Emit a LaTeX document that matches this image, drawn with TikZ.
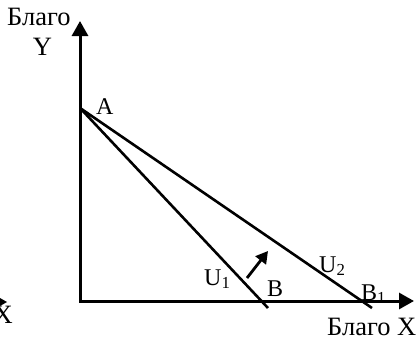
\documentclass[tikz,border=0pt]{standalone}
\usepackage{fontspec}
\setmainfont{Liberation Serif}
\usetikzlibrary{arrows.meta}
\tikzset{
  axis/.style={line width=3pt, line join=miter, {Triangle[length=15pt,width=16pt]}-{Triangle[length=15pt,width=16pt]}},
  budget/.style={line width=2.6pt},
  shiftarrow/.style={line width=2.8pt, -{Triangle[length=12pt,width=13pt]}},
  axlabel/.style={inner sep=0pt, anchor=base west, font=\fontsize{26.5}{28}\selectfont},
  ptlabel/.style={inner sep=0pt, anchor=base west, font=\fontsize{24}{26}\selectfont},
}
\begin{document}
\begin{tikzpicture}[x=1pt,y=-1pt]
\useasboundingbox (0,0) rectangle (420,340);
% named points
\coordinate (O) at (80,301);
\coordinate (Ytip) at (80,21);
\coordinate (Xtip) at (414,301);
\coordinate (A) at (80,108);
\coordinate (B) at (268,308);
\coordinate (B1) at (372,308);
\coordinate (arrS) at (247,278);
\coordinate (arrE) at (268,251);
% axes
\draw[axis] (Ytip) -- (O) -- (Xtip);
% budget lines
\draw[budget] (A) -- (B);
\draw[budget] (A) -- (B1);
% shift arrow
\draw[shiftarrow] (arrS) -- (arrE);
% stray fragment at left edge
\fill (0,298) -- (7,302) -- (0,306) -- cycle;
\node[axlabel, anchor=base east] (sx) at (13,323) {X};
% labels
\node[axlabel] (by) at (7,25) {Благо};
\node[axlabel, anchor=base] (ly) at (42.5,55) {Y};
\node[ptlabel] (la) at (96,114) {A};
\node[ptlabel] (lu1) at (204,285) {U\textsubscript{1}};
\node[ptlabel] (lb) at (267,296) {B};
\node[ptlabel] (lu2) at (319,272) {U\textsubscript{2}};
\node[ptlabel] (lb1) at (361,300) {B\textsubscript{1}};
\node[axlabel] (bx) at (327,335) {Благо X};
\end{tikzpicture}
\end{document}
